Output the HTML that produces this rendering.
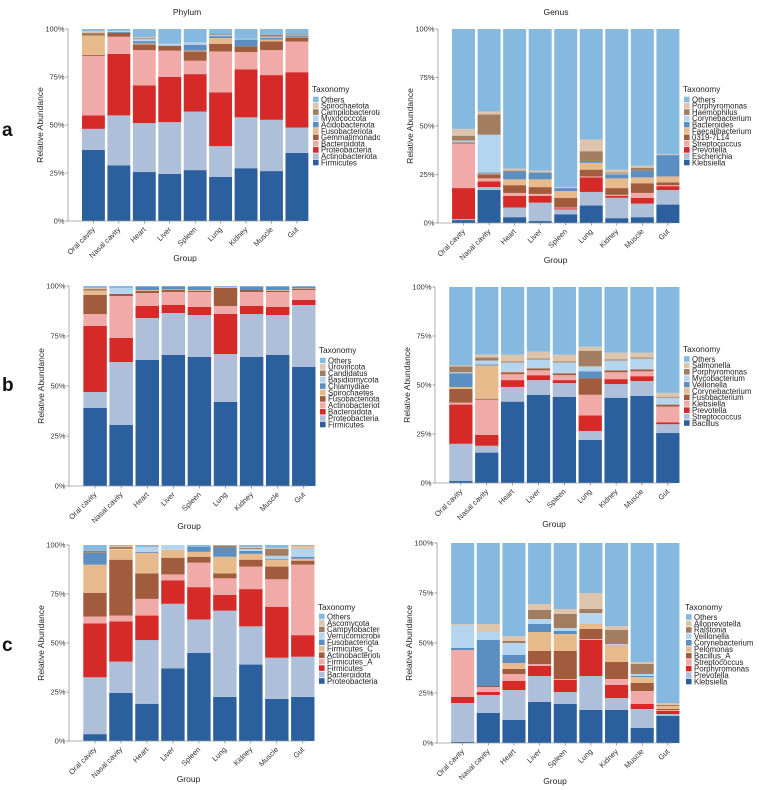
<!DOCTYPE html>
<html><head><meta charset="utf-8">
<style>
html,body{margin:0;padding:0;background:#fff;}
svg{display:block;font-family:"Liberation Sans",Arial,sans-serif;}
</style></head>
<body>
<svg id="fig" width="760" height="790" viewBox="0 0 760 790" xmlns="http://www.w3.org/2000/svg">
<defs><clipPath id="clipL"><rect x="0" y="0" width="380" height="790"/></clipPath></defs>
<text x="187" y="15" font-size="8.5" text-anchor="middle" fill="#222">Phylum</text>
<text x="556" y="15" font-size="8.5" text-anchor="middle" fill="#222">Genus</text>
<text x="2" y="136" font-size="19" font-weight="bold" fill="#111">a</text>
<text x="2" y="391" font-size="19" font-weight="bold" fill="#111">b</text>
<text x="2" y="651" font-size="19" font-weight="bold" fill="#111">c</text>
</svg>
<script>
const groups = ["Oral cavity","Nasal cavity","Heart","Liver","Spleen","Lung","Kidney","Muscle","Gut"];
const colors = ["#2b5f9d","#adbfd9","#d62a29","#f0aaa8","#a15b3d","#e7ba8c","#5b8fc2","#b5d5ee","#a37d5f","#dcc4ad","#86b9df"];

const aLeftTaxa = ["Firmicutes","Actinobacteriota","Proteobacteria","Bacteroidota","Gemmatimonadota","Fusobacteriota","Acidobacteriota","Myxococcota","Campilobacterota","Spirochaetota","Others"];
const aLeftValues = [
 [37,29,25.5,24.5,26.5,23,27.5,26,35.5],
 [11,26,25.5,27,30.5,16,26.5,26.7,13.2],
 [7,32,19.6,23.5,19.5,28,25,23.3,28.8],
 [31,9,18.4,13.7,7,21.3,9,13,16],
 [0.5,2,3,2.6,4.8,4,3,4.5,2.1],
 [10,0,0.5,0,0.5,3,0,1,0.3],
 [0,0.5,1.2,0,3,1,3.5,1,0.7],
 [0,0.5,1,1,1.2,0.5,0.5,0.5,0.5],
 [1.5,0,0.5,0,0,0.5,0,1,0.5],
 [1,0,0.5,0,0,0,0,0,0],
 [1,1,4.3,7.7,7,2.7,5,3,2.4]];

const aRightTaxa = ["Klebsiella","Escherichia","Prevotella","Streptococcus","0319-7L14","Faecalibacterium","Bacteroides","Corynebacterium","Haemophilus","Porphyromonas","Others"];
const aRightValues = [
 [1.5,17,3,1,4.5,9,2.5,3,9.5],
 [0.5,1.5,5,9.5,2.5,7,10.5,7,7.5],
 [16,3,6,3.5,0.5,7.5,1,3,2],
 [23,1.5,1.5,1,0.5,0.5,0.5,2.5,0.5],
 [0.5,2,4,3.5,5,3.5,3.5,5,1.5],
 [0,0.5,3,4,3.5,3.5,5,3,3],
 [0,0.5,4,3.5,1.5,1,2,3.5,11],
 [1,19.5,0,0,0,0,0.5,0,0],
 [2.5,10.5,0.5,0,0,5,0.5,1.5,0],
 [3.5,1.5,1,1,0.5,6,1.5,1,0.5],
 [51.5,42.5,72,73,81.5,57,72.5,70.5,64.5]];

const bLeftTaxa = ["Firmicutes","Proteobacteria","Bacteroidota","Actinobacteriota","Fusobacteriota","Spirochaetes","Chlamydiae","Basidiomycota","Candidatus","Uroviricota","Others"];
const bLeftValues = [
 [39,30.5,63,65.5,64.5,42,64.5,65.5,59.5],
 [8,31.5,21,21,21,24,21.5,20,31],
 [33,12,6,4,4,20,4,4,2.5],
 [6,21,6.5,6.5,7.5,4,7,7.5,5],
 [9.5,1,1,1,0.5,9,1,0.5,0.5],
 [2.2,0,0.5,0.3,0.5,0.5,0,0.5,0.3],
 [0,0,1.5,1.5,1.5,0,1.5,1.5,0.7],
 [0,3,0,0,0,0,0,0,0],
 [0.8,0,0,0,0,0,0,0,0],
 [0.5,0,0,0,0,0,0,0,0],
 [1,1,0.5,0.2,0.5,0.5,0.5,0.5,0.5]];

const bRightTaxa = ["Bacillus","Streptococcus","Prevotella","Klebsiella","Fusobacterium","Corynebacterium","Veillonella","Mycobacterium","Porphyromonas","Salmonella","Others"];
const bRightValues = [
 [1,15.5,41.5,45,44,22,43.5,44.5,25.5],
 [19,3.5,7.5,7.5,7,4.5,7,7.5,4.5],
 [20,5.5,3.5,2.5,1.5,8,2.5,2.5,1],
 [1,18,3,2.5,2.5,10.5,3.5,2.5,8],
 [7,0.5,1,1,1,8.5,1,1,1],
 [1,17,0.5,0,0,0,0,0,0],
 [7,0.5,0,0,0,3.5,0,0,0],
 [0.5,2,4.5,4.5,5.5,2.5,5,5.5,3.5],
 [3,1.5,0.5,0.5,0.5,8,0.5,0.5,0.5],
 [0.5,1.5,3.5,3.5,3.5,2,3.5,2.5,2],
 [40,34.5,34.5,33,34.5,30.5,33.5,33.5,54]];

const cLeftTaxa = ["Proteobacteria","Bacteroidota","Firmicutes","Firmicutes_A","Actinobacteriota","Firmicutes_C","Fusobacteriota","Verrucomicrobiota","Campylobacterota","Ascomycota","Others"];
const cLeftValues = [
 [3.5,24.5,19,37,45,22.5,39,21.5,22.5],
 [29,16,32.5,33,17,44,19.5,21,20.5],
 [27.5,20.5,12.5,12,16.5,8,19,26,11],
 [3.5,3,8.5,3,12.5,8.5,11.5,14,36],
 [12,28.5,13,8.5,3,2.5,3.5,6.5,2],
 [14.5,5,10.5,4,2.5,8.5,3,3.5,1],
 [6,0,0.5,0,2.5,4.5,1.5,0.5,1],
 [0,0.5,2,2.5,0,0,1,1.5,3.5],
 [1,1,0,0,0,1,0.5,3.5,0],
 [0,0.5,0.5,0,0,0,0.5,0.5,2],
 [3,0.5,1,0,1,0.5,1,1.5,0.5]];

const cRightTaxa = ["Klebsiella","Prevotella","Porphyromonas","Streptococcus","Bacillus_A","Pelomonas","Corynebacterium","Veillonella","Ralstonia","Alloprevotella","Others"];
const cRightValues = [
 [0.5,15,11.5,20.5,19.5,16.5,16.5,7.5,13.5],
 [19.5,9,15,13,6,17,6,9.5,1],
 [3,1.5,4.5,5,6,18,6.5,2.5,1.5],
 [23.5,2.5,3.5,1,0.5,0.5,3,6.5,0.5],
 [0,0.5,2.5,6.5,14,5,8.5,4,0.5],
 [0,0,3,9.5,8.5,2.5,8.5,3,1.5],
 [1,23,4,4,1.5,0,0,0.5,0],
 [11.5,4,6,2.5,1.5,5.5,0.5,1,0],
 [0,0,1,4.5,7,2,7,5,0.5],
 [0.5,4,2.5,3,2.5,8,2,1,1],
 [40.5,40.5,46.5,30.5,33,25,41.5,59.5,80]];

const yTicks = [0,25,50,75,100];
const yTickLabels = ["0%","25%","50%","75%","100%"];

const NS = "http://www.w3.org/2000/svg";
const svg = document.getElementById("fig");
function mk(tag, attrs, parent){
  const e = document.createElementNS(NS, tag);
  for (const k in attrs) e.setAttribute(k, attrs[k]);
  (parent||svg).appendChild(e);
  return e;
}

function panel(id, geo, taxa, values, clip){
  const g = mk("g", {});
  
  
  if (clip) g.setAttribute("clip-path", "url(#clipL)");
  const W = geo.x1 - geo.x0;
  const slot = W / 9.2;
  const bw = slot * 0.9;
  const xCenter = i => geo.x0 + slot * (i + 1) ;
  const yScale = v => geo.yb - (v / 100) * (geo.yb - geo.yt);
  // bars
  for (let i = 0; i < groups.length; i++){
    let cum = 0;
    for (let s = 0; s < taxa.length; s++){
      const v = values[s][i];
      if (v <= 0) { continue; }
      const top = Math.min(100, cum + v);
      const y1 = yScale(top), y0 = yScale(cum);
      const r = mk("rect", {x: xCenter(i) - bw/2, y: y1, width: bw, height: Math.max(0, y0 - y1), fill: colors[s]}, g);
      
      
      cum = top;
    }
  }
  // axes
  const ax = mk("path", {d: `M${geo.x0},${geo.yt} V${geo.yb} H${geo.x1}`, stroke: "#9a9a9a", "stroke-width": 0.8, fill: "none"}, g);
  
  
  for (let t = 0; t < yTicks.length; t++){
    const y = yScale(yTicks[t]);
    mk("line", {x1: geo.x0 - 2.5, x2: geo.x0, y1: y, y2: y, stroke: "#666", "stroke-width": 0.6}, g);
    const tl = mk("text", {x: geo.x0 - 3.5, y: y + 2.6, "font-size": 7.5, "text-anchor": "end", fill: "#333"}, g);
    tl.textContent = yTickLabels[t];
    
    
  }
  for (let i = 0; i < groups.length; i++){
    const x = xCenter(i), y = geo.yb + 5;
    mk("line", {x1: x, x2: x, y1: geo.yb, y2: geo.yb + 2.5, stroke: "#666", "stroke-width": 0.6}, g);
    const xl = mk("text", {x: x + 2, y: y + 4, "font-size": 7.5, "text-anchor": "end", fill: "#333", transform: `rotate(-45 ${x + 2} ${y + 4})`}, g);
    xl.textContent = groups[i];
    
    
  }
  const yt = mk("text", {x: 0, y: 0, "font-size": 8.5, "text-anchor": "middle", fill: "#222",
    transform: `translate(${geo.x0 - 25},${(geo.yt + geo.yb)/2}) rotate(-90)`}, g);
  yt.textContent = "Relative Abundance";
  
  
  const xt = mk("text", {x: (geo.x0 + geo.x1)/2, y: geo.gy, "font-size": 8.5, "text-anchor": "middle", fill: "#222"}, g);
  xt.textContent = "Group";
  
  
  // legend
  const lg = mk("g", {}, g);
  
  
  const lt = mk("text", {x: geo.lx, y: geo.ly, "font-size": 8.2, fill: "#222"}, lg);
  lt.textContent = "Taxonomy";
  
  
  const n = taxa.length;
  for (let k = 0; k < n; k++){
    const s = n - 1 - k;
    const cy = geo.le + k * geo.ls;
    const sq = mk("rect", {x: geo.lx + 1, y: cy - 2.8, width: 5.6, height: 5.6, fill: colors[s]}, lg);
    
    
    const tx = mk("text", {x: geo.lx + 9, y: cy + 2.8, "font-size": 7.8, fill: "#222"}, lg);
    tx.textContent = taxa[s];
    
    
  }
}

panel("phylum-a", {x0:68, x1:302, yt:29, yb:221, gy:261, lx:312, ly:92, le:99.5, ls:6.3}, aLeftTaxa, aLeftValues, true);
panel("genus-a", {x0:438, x1:673, yt:29, yb:223, gy:263, lx:683, ly:92, le:99.5, ls:6.3}, aRightTaxa, aRightValues, false);
panel("phylum-b", {x0:69, x1:309, yt:286, yb:486, gy:529, lx:319, ly:353, le:360.5, ls:6.4}, bLeftTaxa, bLeftValues, true);
panel("genus-b", {x0:435, x1:673, yt:287, yb:483, gy:527, lx:683, ly:352, le:359, ls:6.4}, bRightTaxa, bRightValues, false);
panel("phylum-c", {x0:69, x1:308, yt:545, yb:741, gy:782, lx:318, ly:610, le:616.5, ls:6.45}, cLeftTaxa, cLeftValues, true);
panel("genus-c", {x0:437, x1:673, yt:543, yb:743, gy:784, lx:685, ly:610, le:617, ls:6.45}, cRightTaxa, cRightValues, false);
</script>
</body></html>
